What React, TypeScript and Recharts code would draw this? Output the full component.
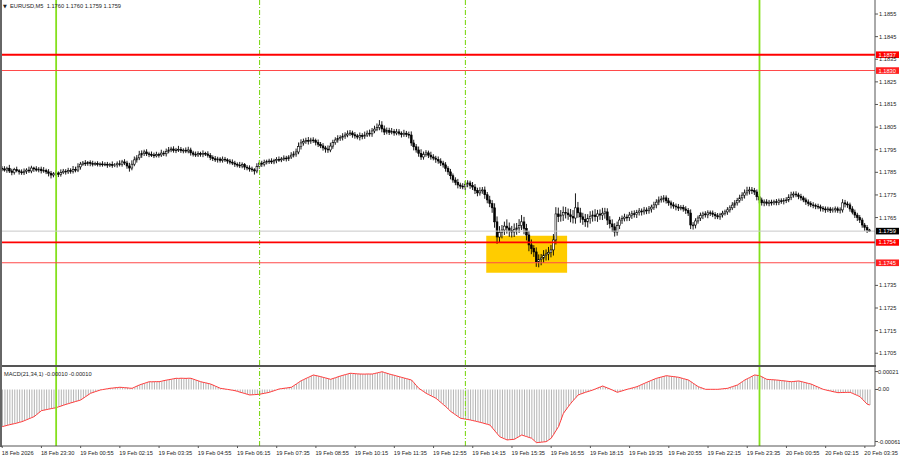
import React from 'react';
import { ComposedChart, Bar, Line, XAxis, YAxis, ReferenceLine, ReferenceArea } from 'recharts';

// EURUSD M5 closes (open of each bar = previous close)
const firstOpen = 1.17868;
const closes = [
  1.17865,1.17860,1.17868,1.17856,1.17850,1.17862,1.17857,1.17852,1.17848,1.17855,
  1.17860,1.17856,1.17869,1.17865,1.17860,1.17864,1.17857,1.17859,1.17852,1.17846,
  1.17838,1.17843,1.17847,1.17841,1.17849,1.17855,1.17852,1.17858,1.17854,1.17863,
  1.17860,1.17874,1.17886,1.17891,1.17888,1.17893,1.17889,1.17886,1.17889,1.17885,
  1.17887,1.17884,1.17886,1.17882,1.17885,1.17880,1.17883,1.17888,1.17885,1.17896,
  1.17891,1.17878,1.17869,1.17886,1.17905,1.17914,1.17927,1.17934,1.17940,1.17932,
  1.17929,1.17927,1.17923,1.17929,1.17927,1.17935,1.17932,1.17943,1.17949,1.17953,
  1.17947,1.17949,1.17952,1.17946,1.17948,1.17944,1.17949,1.17936,1.17930,1.17927,
  1.17933,1.17929,1.17934,1.17931,1.17925,1.17916,1.17910,1.17905,1.17909,1.17903,
  1.17908,1.17905,1.17900,1.17895,1.17891,1.17886,1.17882,1.17878,1.17884,1.17873,
  1.17869,1.17865,1.17861,1.17856,1.17875,1.17891,1.17886,1.17894,1.17897,1.17900,
  1.17896,1.17902,1.17907,1.17905,1.17909,1.17913,1.17910,1.17918,1.17926,1.17931,
  1.17940,1.17964,1.17980,1.17986,1.17991,1.17988,1.17993,1.17990,1.17982,1.17974,
  1.17967,1.17958,1.17953,1.17949,1.17966,1.17981,1.17993,1.17999,1.18004,1.18010,
  1.18015,1.18020,1.18024,1.18016,1.18011,1.18006,1.18013,1.18008,1.18015,1.18023,
  1.18020,1.18033,1.18041,1.18048,1.18059,1.18042,1.18028,1.18035,1.18027,1.18031,
  1.18024,1.18029,1.18022,1.18017,1.18023,1.18018,1.18015,1.17980,1.17963,1.17949,
  1.17934,1.17918,1.17929,1.17936,1.17926,1.17918,1.17913,1.17907,1.17900,1.17891,
  1.17883,1.17868,1.17852,1.17835,1.17816,1.17806,1.17794,1.17789,1.17785,1.17796,
  1.17803,1.17792,1.17785,1.17770,1.17759,1.17768,1.17772,1.17751,1.17728,1.17712,
  1.17693,1.17631,1.17564,1.17584,1.17595,1.17612,1.17604,1.17593,1.17586,1.17598,
  1.17604,1.17615,1.17631,1.17602,1.17573,1.17529,1.17513,1.17498,1.17454,1.17465,
  1.17471,1.17484,1.17489,1.17496,1.17507,1.17551,1.17666,1.17654,1.17661,1.17673,
  1.17670,1.17662,1.17655,1.17648,1.17693,1.17671,1.17653,1.17642,1.17631,1.17645,
  1.17656,1.17661,1.17654,1.17666,1.17661,1.17669,1.17675,1.17639,1.17622,1.17609,
  1.17586,1.17614,1.17639,1.17646,1.17652,1.17650,1.17661,1.17667,1.17663,1.17672,
  1.17679,1.17675,1.17683,1.17680,1.17688,1.17696,1.17706,1.17718,1.17728,1.17732,
  1.17737,1.17724,1.17715,1.17706,1.17701,1.17697,1.17692,1.17695,1.17688,1.17681,
  1.17670,1.17617,1.17617,1.17635,1.17648,1.17659,1.17666,1.17662,1.17671,1.17670,
  1.17664,1.17658,1.17653,1.17662,1.17669,1.17675,1.17684,1.17693,1.17705,1.17715,
  1.17726,1.17737,1.17749,1.17759,1.17768,1.17772,1.17769,1.17763,1.17742,1.17728,
  1.17715,1.17719,1.17713,1.17718,1.17715,1.17720,1.17717,1.17724,1.17721,1.17726,
  1.17728,1.17740,1.17750,1.17754,1.17750,1.17744,1.17737,1.17728,1.17719,1.17712,
  1.17706,1.17703,1.17700,1.17697,1.17692,1.17688,1.17684,1.17688,1.17682,1.17684,
  1.17689,1.17681,1.17684,1.17715,1.17710,1.17706,1.17688,1.17674,1.17661,1.17650,
  1.17639,1.17617,1.17606,1.17595,1.17590,
];

// wick lengths above / below the body, in points (0.00001)
const upperWicks = [
  9,12,7,15,10,8,13,7,11,12, 8,15,10,6,12,9,11,14,7,12, 10,8,12,7,14,10,9,12,10,15,
  12,16,10,9,13,7,10,12,8,10, 7,12,9,10,7,13,8,10,15,9, 12,10,14,17,15,12,18,13,10,12,
  9,13,10,12,8,15,10,12,13,10, 12,9,15,10,8,12,14,10,9,12, 10,8,13,7,12,10,9,12,10,8,
  12,10,7,9,12,10,8,14,10,7, 9,12,10,7,15,13,10,12,9,10, 12,8,10,13,9,12,10,8,13,12,
  15,18,16,13,12,15,10,12,9,13, 10,12,9,16,15,13,12,15,10,13, 12,15,13,10,12,9,13,10,15,12,
  16,13,15,18,22,17,15,13,12,15, 10,13,12,9,15,10,12,16,14,12, 15,18,13,12,10,15,12,10,13,12,
  10,12,9,13,10,12,15,10,13,16, 12,10,15,13,12,16,13,15,12,18, 15,20,24,28,22,20,30,24,20,26,
  22,28,30,22,20,18,24,15,20,22, 18,22,20,24,22,26,30,28,22,26, 24,20,26,28,64,26,22,18,24,20,
  22,20,26,18,20,24,18,16,17,20, 16,18,14,13,15,12,14,13,15,12, 13,11,14,12,13,11,14,13,15,14,
  12,11,13,10,12,11,13,10,11,12, 11,16,13,12,11,13,10,12,11,10, 11,10,12,9,11,10,12,11,13,12,
  11,14,13,15,18,14,13,12,11,13, 10,11,12,10,11,9,12,10,11,10, 12,13,14,11,12,10,11,9,10,11,
  10,12,9,11,10,9,11,10,9,11, 10,9,11,16,13,11,10,12,11,10, 11,10,9,11,5,
];
const lowerWicks = [
  10,7,12,9,13,10,7,12,9,10, 12,9,10,13,7,10,12,9,10,14, 15,10,9,12,10,7,12,9,10,9,
  10,9,12,7,10,9,12,10,7,9, 10,9,7,12,9,10,7,12,9,10, 9,12,16,10,9,12,10,13,12,10,
  12,9,10,7,12,9,10,12,9,10, 10,12,9,10,12,9,10,12,10,9, 9,10,12,9,10,12,10,9,12,10,
  10,9,12,10,9,12,10,9,10,12, 10,12,9,16,10,9,12,10,9,10, 9,10,12,9,10,9,12,10,9,10,
  12,10,13,12,10,15,12,10,13,12, 10,12,16,13,10,12,9,12,10,13, 12,10,9,13,12,10,15,12,10,9,
  12,13,10,9,12,15,13,10,12,9, 12,10,9,13,10,12,15,13,16,12, 15,13,12,10,13,12,10,15,12,13,
  12,15,13,16,12,13,15,12,10,13, 12,15,13,16,15,12,13,18,15,16, 22,26,30,24,26,22,25,28,24,22,
  24,22,20,26,24,28,25,22,22,24, 26,22,24,28,22,25,20,24,22,26, 24,22,26,24,25,22,26,24,22,25,
  22,24,20,23,21,22,24,22,20,23, 20,16,15,17,13,16,15,17,13,15, 13,16,12,15,13,16,12,15,13,12,
  15,12,13,16,12,15,13,10,12,15, 13,18,20,15,12,13,16,12,15,13, 12,15,10,13,12,10,13,12,10,13,
  12,10,13,15,12,16,15,13,16,15, 12,15,10,13,12,10,13,12,10,13, 12,10,13,12,10,13,12,10,13,12,
  10,12,13,10,15,12,13,10,12,10, 12,10,13,12,15,13,12,10,13,15, 13,12,15,13,3,
];

// MACD(21,34,1) main value per bar, in points (0.00001); signal(1) equals it
const macdPoints = [
  -43.5,-42.8,-42.0,-41.3,-40.6,-40.0,-39.3,-38.5,-37.7,-36.6,
  -35.4,-34.2,-33.0,-31.8,-29.5,-27.1,-24.8,-24.2,-23.6,-23.0,
  -22.4,-21.9,-21.3,-20.3,-19.4,-18.4,-17.4,-16.6,-15.7,-14.9,
  -14.0,-13.2,-12.3,-10.4,-8.4,-6.5,-4.5,-3.5,-2.5,-1.6,
  -0.6,-0.1,0.4,0.9,1.4,1.7,2.0,2.3,2.6,2.4,
  2.1,1.9,1.6,1.4,2.7,4.0,5.3,6.3,7.2,8.2,
  9.1,9.0,9.1,9.2,9.1,9.7,10.4,11.0,11.5,12.0,
  12.6,13.1,13.0,13.2,13.1,13.0,13.2,13.1,12.1,11.1,
  10.1,9.1,8.4,7.8,7.1,6.4,5.2,3.9,2.7,1.4,
  1.0,0.5,0.1,-0.4,-0.9,-1.4,-2.2,-3.1,-3.9,-4.7,
  -5.6,-6.4,-6.2,-6.0,-5.8,-5.6,-5.0,-4.5,-3.9,-3.3,
  -2.3,-1.4,-0.4,0.6,1.0,1.4,1.8,2.2,2.6,4.5,
  6.4,8.4,10.3,11.6,13.0,14.3,15.7,17.0,16.3,15.7,
  15.0,14.2,13.5,12.7,11.9,12.9,13.8,14.8,15.8,16.6,
  17.4,18.2,19.0,18.8,18.5,18.3,18.1,18.1,18.0,18.2,
  18.1,18.1,18.8,19.4,20.1,20.8,19.9,19.0,18.1,17.3,
  16.6,15.8,15.0,14.2,13.4,12.7,11.9,11.1,7.9,4.6,
  1.4,-0.6,-2.5,-4.5,-6.0,-7.4,-8.9,-10.3,-12.8,-15.2,
  -17.7,-20.1,-22.9,-25.7,-27.7,-29.7,-31.7,-33.7,-34.2,-34.7,
  -35.2,-35.7,-36.4,-37.0,-37.7,-38.4,-39.2,-40.0,-40.8,-41.6,
  -45.0,-48.5,-51.9,-55.3,-56.6,-57.8,-59.1,-58.8,-58.6,-58.3,
  -56.6,-55.0,-53.3,-54.3,-55.2,-56.2,-57.1,-59.7,-62.3,-62.0,
  -61.7,-61.4,-61.1,-59.1,-57.1,-52.6,-48.0,-43.5,-35.7,-27.9,
  -24.0,-20.1,-16.2,-12.9,-9.7,-6.4,-5.4,-4.3,-3.3,-2.4,
  -1.5,-0.6,0.6,1.8,2.9,4.1,2.9,1.8,0.6,-0.7,
  -2.0,-3.3,-2.4,-1.6,-0.7,0.2,1.0,1.7,2.5,3.3,
  4.6,5.9,7.1,8.4,9.6,10.8,12.0,13.1,13.9,14.7,
  15.4,16.2,15.8,15.4,15.1,14.7,14.3,13.5,12.7,11.9,
  11.1,9.2,7.2,5.3,3.3,2.3,1.2,0.2,0.2,0.2,
  0.2,0.2,0.2,0.5,0.8,1.1,1.4,2.4,3.4,4.3,
  5.3,7.2,9.2,11.1,12.6,14.0,15.5,17.0,16.6,16.2,
  14.8,13.3,11.9,11.7,11.5,11.3,11.1,10.8,10.4,10.1,
  9.8,9.4,9.1,9.4,9.7,10.0,9.3,8.6,7.8,7.1,
  6.4,5.2,3.9,2.7,1.4,0.2,-0.5,-1.2,-1.8,-2.5,
  -3.1,-3.7,-3.6,-3.5,-3.4,-3.4,-3.3,-4.6,-5.8,-7.1,
  -8.4,-11.4,-14.4,-17.3,-18.1,
];

const timeLabels = [
  '18 Feb 2026','18 Feb 23:30','19 Feb 00:55','19 Feb 02:15','19 Feb 03:35','19 Feb 04:55',
  '19 Feb 06:15','19 Feb 07:35','19 Feb 08:55','19 Feb 10:15','19 Feb 11:35','19 Feb 12:55',
  '19 Feb 14:15','19 Feb 15:35','19 Feb 16:55','19 Feb 18:15','19 Feb 19:35','19 Feb 20:55',
  '19 Feb 22:15','19 Feb 23:35','20 Feb 00:55','20 Feb 02:15','20 Feb 03:35',
];
const timeLabelBars = [0,16,32,48,64,80,96,112,128,144,160,176,192,208,224,240,256,272,288,304,320,336,352];

const priceTicks = [1.1705,1.1715,1.1725,1.1735,1.1765,1.1775,1.1785,1.1795,1.1805,1.1815,1.1825,1.1835,1.1845,1.1855];
const macdTicks = [0.00021, 0, -0.00061];
const macdTickLabels = ['0.00021', '0.00', '-0.00061'];

const strongLevels = [1.1837, 1.1754];
const weakLevels = [1.1830, 1.1745];
const currentPrice = 1.1759;
const zoneBars = [198, 230];
const zonePrices = [1.17406, 1.1757];
const solidMarkers = [22, 309];
const dashMarkers = [105, 189];

const PRICE_DOMAIN = [1.16998, 1.18612];
const MACD_DOMAIN = [-0.000662, 0.0002635];
const POINT = 0.00001;

const bars = closes.map((c, i) => {
  const o = i === 0 ? firstOpen : closes[i - 1];
  const high = Math.max(o, c) + upperWicks[i] * POINT;
  const low = Math.min(o, c) - lowerWicks[i] * POINT;
  return { i, open: o, close: c, high, low, range: [low, high], macd: macdPoints[i] * POINT };
});

const FONT = "'Liberation Sans', Arial, sans-serif";
const FS = 5.7;

const Candle = (props: any) => {
  const { x, y, width, height, payload } = props;
  if (!payload || height == null) return null;
  const { open, close, high, low } = payload;
  const top = Math.min(y, y + height);
  const h = Math.abs(height);
  const cx = x + width / 2;
  const ppu = h / (high - low);
  const bTop = top + (high - Math.max(open, close)) * ppu;
  const bH = Math.max(0.8, Math.abs(open - close) * ppu);
  const bull = close >= open;
  return (
    <g>
      <line x1={cx} x2={cx} y1={top} y2={top + h} stroke="#000" strokeWidth={0.9} />
      <rect x={cx - 0.9} y={bTop} width={1.8} height={bH} fill={bull ? '#fff' : '#000'} stroke="#000" strokeWidth={0.6} />
    </g>
  );
};

const PriceTick = (props: any) => {
  const { x, y, payload } = props;
  return (
    <text x={x} y={y + 2} fontSize={FS} fontFamily={FONT} fill="#222" textAnchor="start">
      {Number(payload.value).toFixed(4)}
    </text>
  );
};

const MacdTick = (props: any) => {
  const { x, y, payload } = props;
  const idx = macdTicks.indexOf(payload.value);
  return (
    <text x={x - 1} y={y + 2} fontSize={FS} fontFamily={FONT} fill="#222" textAnchor="start">
      {macdTickLabels[idx]}
    </text>
  );
};

const TimeTick = (props: any) => {
  const { x, y, payload } = props;
  const idx = timeLabelBars.indexOf(payload.value);
  return (
    <text x={x - 0.5} y={y + 4.5} fontSize={FS} fontFamily={FONT} fill="#222" textAnchor="start">
      {timeLabels[idx]}
    </text>
  );
};

const tag = (text: string, bg: string) => (props: any) => {
  const vb = props.viewBox || {};
  const x = (vb.x || 0) + (vb.width || 0) + 1;
  const y = vb.y || 0;
  return (
    <g>
      <rect x={x} y={y - 3.3} width={23} height={6.6} fill={bg} />
      <text x={x + 2.5} y={y + 2} fontSize={FS} fontFamily={FONT} fill="#fff">{text}</text>
    </g>
  );
};

const verticalMarkers = () => [
  ...solidMarkers.map((b) => (
    <ReferenceLine key={'s' + b} x={b} stroke="#84e01c" strokeWidth={1.8} />
  )),
  ...dashMarkers.map((b) => (
    <ReferenceLine key={'d' + b} x={b} stroke="#7fd81a" strokeWidth={1.1} strokeDasharray="5 2 1 2" />
  )),
];

export default function App() {
  return (
    <div style={{ position: 'absolute', left: 0, top: 0, width: 900, height: 460, background: '#fff', overflow: 'hidden' }}>
      <div style={{ position: 'absolute', left: 0, top: 0 }}>
        <ComposedChart width={900} height={365} data={bars} margin={{ top: 0, right: 0, bottom: 0, left: 1 }} barCategoryGap={0}>
          <XAxis dataKey="i" hide padding={{ left: 0, right: 4 }} />
          <YAxis
            orientation="right"
            width={25}
            domain={PRICE_DOMAIN}
            allowDataOverflow
            ticks={priceTicks}
            interval={0}
            tick={<PriceTick />}
            tickSize={3}
            tickMargin={1}
            axisLine={{ stroke: '#555' }}
            tickLine={{ stroke: '#555' }}
          />
          <ReferenceArea x1={zoneBars[0]} x2={zoneBars[1]} y1={zonePrices[0]} y2={zonePrices[1]} fill="#ffcc00" fillOpacity={1} stroke="none" />
          {verticalMarkers()}
          <ReferenceLine y={currentPrice} stroke="#c8c8c8" strokeWidth={1} />
          <Bar dataKey="range" barSize={2} shape={<Candle />} isAnimationActive={false} />
          {weakLevels.map((v) => (
            <ReferenceLine key={'w' + v} y={v} stroke="#ff4a4a" strokeWidth={1.1} label={tag(v.toFixed(4), '#ff2020')} />
          ))}
          {strongLevels.map((v) => (
            <ReferenceLine key={'s' + v} y={v} stroke="#ff0000" strokeWidth={1.8} label={tag(v.toFixed(4), '#ff0000')} />
          ))}
          <ReferenceLine y={currentPrice} stroke="none" label={tag(currentPrice.toFixed(4), '#000')} />
        </ComposedChart>
      </div>
      <div style={{ position: 'absolute', left: 1, top: 365, width: 875, height: 2, background: '#555' }} />
      <div style={{ position: 'absolute', left: 0, top: 0, width: 1.5, height: 447, background: '#666' }} />
      <div style={{ position: 'absolute', left: 0, top: 367 }}>
        <ComposedChart width={900} height={93} data={bars} margin={{ top: 0, right: 0, bottom: 0, left: 1 }} barCategoryGap={0}>
          <XAxis
            dataKey="i"
            ticks={timeLabelBars}
            interval={0}
            tick={<TimeTick />}
            height={14}
            tickSize={2}
            tickMargin={2}
            padding={{ left: 0, right: 4 }}
            axisLine={{ stroke: '#555' }}
            tickLine={{ stroke: '#555' }}
          />
          <YAxis
            orientation="right"
            width={25}
            domain={MACD_DOMAIN}
            allowDataOverflow
            ticks={macdTicks}
            interval={0}
            tick={<MacdTick />}
            tickSize={3}
            tickMargin={1}
            axisLine={{ stroke: '#555' }}
            tickLine={{ stroke: '#555' }}
          />
          <Bar dataKey="macd" fill="#b4b4b4" barSize={1} isAnimationActive={false} />
          <Line dataKey="macd" type="linear" stroke="#ff3b3b" strokeWidth={1} dot={false} activeDot={false} isAnimationActive={false} />
          {verticalMarkers()}
        </ComposedChart>
      </div>
      <div style={{ position: 'absolute', left: 3, top: 1.5, fontFamily: FONT, fontSize: FS, color: '#222', whiteSpace: 'pre', lineHeight: '8px' }}>
        <span style={{ fontFamily: "'DejaVu Sans', sans-serif", fontSize: 5 }}>▼</span>{'  EURUSD,M5  1.1760 1.1760 1.1759 1.1759'}
      </div>
      <div style={{ position: 'absolute', left: 4, top: 369.5, fontFamily: FONT, fontSize: FS, color: '#222', whiteSpace: 'pre', lineHeight: '8px' }}>
        {'MACD(21,34,1) -0.00010 -0.00010'}
      </div>
    </div>
  );
}
